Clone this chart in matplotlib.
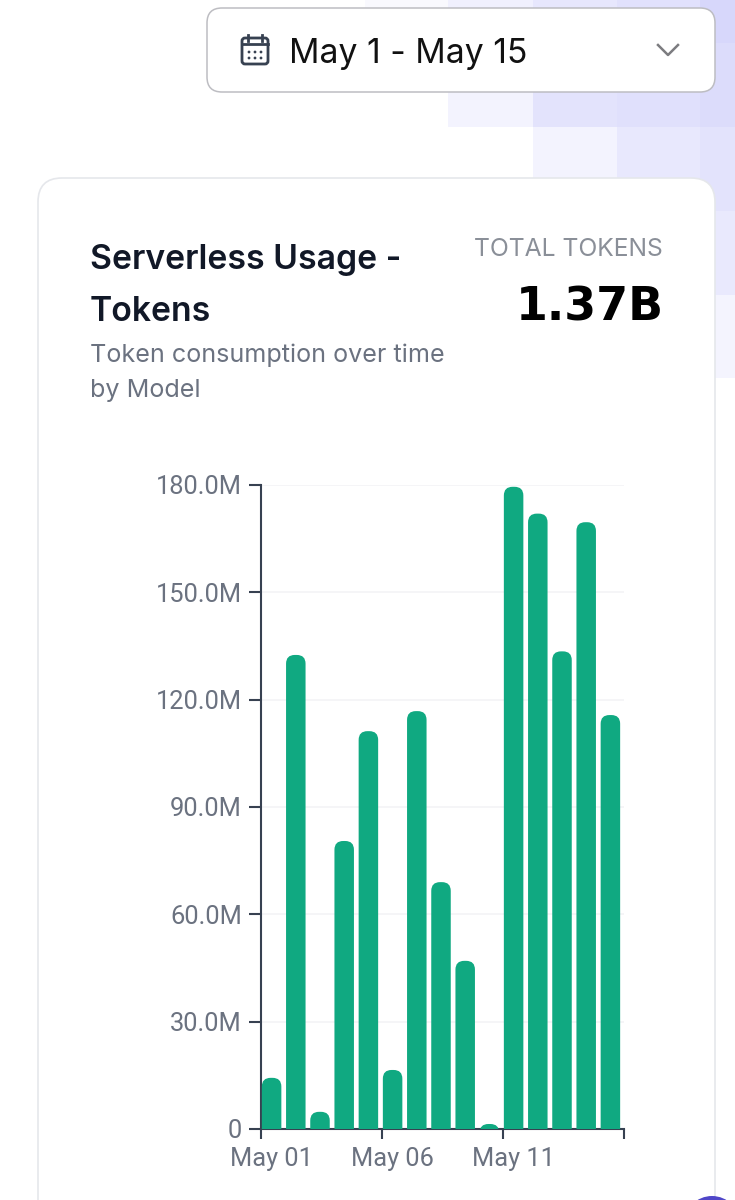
import matplotlib
matplotlib.use("Agg")
import matplotlib.pyplot as plt
from matplotlib.patches import FancyBboxPatch, Rectangle, Circle
from matplotlib.transforms import ScaledTranslation

# values, in millions of tokens
days = list(range(1, 16))
tokens = [14.3, 132.5, 4.8, 80.5, 111.2, 16.5, 116.8, 69.0, 47.0, 1.4, 179.5, 172.0, 133.5, 169.6, 115.7]
y_ticks = [0, 30, 60, 90, 120, 150, 180]
y_labels = ["0", "30.0M", "60.0M", "90.0M", "120.0M", "150.0M", "180.0M"]
x_label_days = [1, 6, 11]
x_labels = ["May 01", "May 06", "May 11"]

# background squares: x, y, w, h, colour (page pixels)
squares = [
    (365, 0, 83, 43, "#f9f9fe"),
    (448, 0, 85, 43, "#f0f0fe"),
    (533, 0, 84, 43, "#e7e7fd"),
    (617, 0, 83, 43, "#e1e1fc"),
    (700, 0, 35, 43, "#d7d7fb"),
    (448, 43, 85, 84, "#f3f3fe"),
    (533, 43, 84, 84, "#e3e3fc"),
    (617, 43, 83, 84, "#e0e0fc"),
    (700, 43, 35, 84, "#dcdcfb"),
    (533, 127, 84, 84, "#f3f3fe"),
    (617, 127, 83, 84, "#e8e8fd"),
    (700, 127, 35, 84, "#e3e3fc"),
    (700, 211, 35, 84, "#e9e9fd"),
    (700, 295, 35, 83, "#f4f4fe"),
]

W, H = 735, 1200
GREEN = "#10a981"
AXIS = "#374151"
GREY = "#6b7280"

plt.rcParams["font.family"] = ["Roboto", "DejaVu Sans"]

fig = plt.figure(figsize=(W / 100, H / 100), dpi=100)
bg = fig.add_axes([0, 0, 1, 1])
bg.set_xlim(0, W)
bg.set_ylim(H, 0)
bg.axis("off")

for x, y, w, h, c in squares:
    bg.add_patch(Rectangle((x, y), w, h, fc=c, ec="none"))

# date picker
bg.add_patch(FancyBboxPatch((207, 8), 508, 84, boxstyle="round,pad=0,rounding_size=15",
                            fc="white", ec="#bdbdc2", lw=1.1))
bg.add_patch(FancyBboxPatch((242, 38), 26, 26, boxstyle="round,pad=0,rounding_size=3",
                            fc="white", ec="#374151", lw=2))
bg.plot([242, 268], [44, 44], color="#374151", lw=2)
for x in (248, 262):
    bg.plot([x, x], [35, 41], color="#374151", lw=2)
for x in (249, 255, 261):
    for y in (52, 58):
        bg.add_patch(Circle((x, y), 1.4, fc="#374151", ec="none"))
bg.text(289, 54, "May 1 - May 15", fontsize=24.3, color="#111111", family="Inter", va="center", ha="left")
bg.plot([658, 668, 678], [45, 55, 45], color="#7c7c80", lw=1.8)

# card
bg.add_patch(FancyBboxPatch((38, 178), 677, 1100, boxstyle="round,pad=0,rounding_size=24",
                            fc="white", ec="#e5e7eb", lw=1.2))
bg.text(90, 260, "Serverless Usage -", fontsize=24.3, fontweight="semibold", color="#111827",
        family="Inter", va="center")
bg.text(90, 312, "Tokens", fontsize=24.3, fontweight="semibold", color="#111827", family="Inter", va="center")
bg.text(90, 355, "Token consumption over time", fontsize=18.1, color=GREY, family="Inter", va="center")
bg.text(90, 391, "by Model", fontsize=18.1, color=GREY, family="Inter", va="center")
bg.text(663, 250, "TOTAL TOKENS", fontsize=17.8, color="#8a8f98", family="Inter", va="center", ha="right")
bg.text(664, 308, "1.37B", fontsize=33, fontweight="bold", color="black", family="DejaVu Sans",
        va="center", ha="right")
bg.add_patch(Circle((712, 1224), 28, fc="#4f46c8", ec="none"))

# chart
left, right, top, bottom = 261, 624, 485, 1129
ax = fig.add_axes([left / W, 1 - bottom / H, (right - left) / W, (bottom - top) / H])
ax.patch.set_alpha(0)
ax.set_xlim(0.5, 15.5)
ax.set_ylim(0, 180)
ax.grid(axis="y", color="#f3f4f6", lw=1.2)
ax.set_axisbelow(True)

# rounded tops only: box runs below zero and the axes clip its lower corners
bar_w = 19.5 / 24.2
bar_shift = -1.5 / 24.2
px_x = (right - left) / 15
px_y = (bottom - top) / 180
radius = 0.36
aspect = px_x / px_y
for d, v in zip(days, tokens):
    r = radius * aspect
    ax.add_patch(FancyBboxPatch((d + bar_shift - bar_w / 2, -2 * r), bar_w, v + 2 * r,
                                boxstyle=f"round,pad=0,rounding_size={radius}",
                                mutation_aspect=aspect, fc=GREEN, ec="none", zorder=3))

for side in ("top", "right"):
    ax.spines[side].set_visible(False)
for side in ("left", "bottom"):
    ax.spines[side].set_color(AXIS)
    ax.spines[side].set_linewidth(1.5)

ax.set_yticks(y_ticks, y_labels)
ax.tick_params(axis="y", length=8.6, width=1.5, color=AXIS, labelcolor=GREY, labelsize=18.4, pad=5)

# ticks sit on band edges, labels on band centres
ax.set_xticks([0.5, 5.5, 10.5, 15.5], minor=True)
ax.tick_params(axis="x", which="minor", length=7, width=1.5, color=AXIS)
ax.set_xticks(x_label_days, x_labels)
ax.tick_params(axis="x", which="major", length=0, labelcolor=GREY, labelsize=18.3, pad=13)
shift = ScaledTranslation(-2 / 100, 0, fig.dpi_scale_trans)
for lab in ax.get_xticklabels():
    lab.set_transform(lab.get_transform() + shift)

fig.savefig("out.png", dpi=100)
